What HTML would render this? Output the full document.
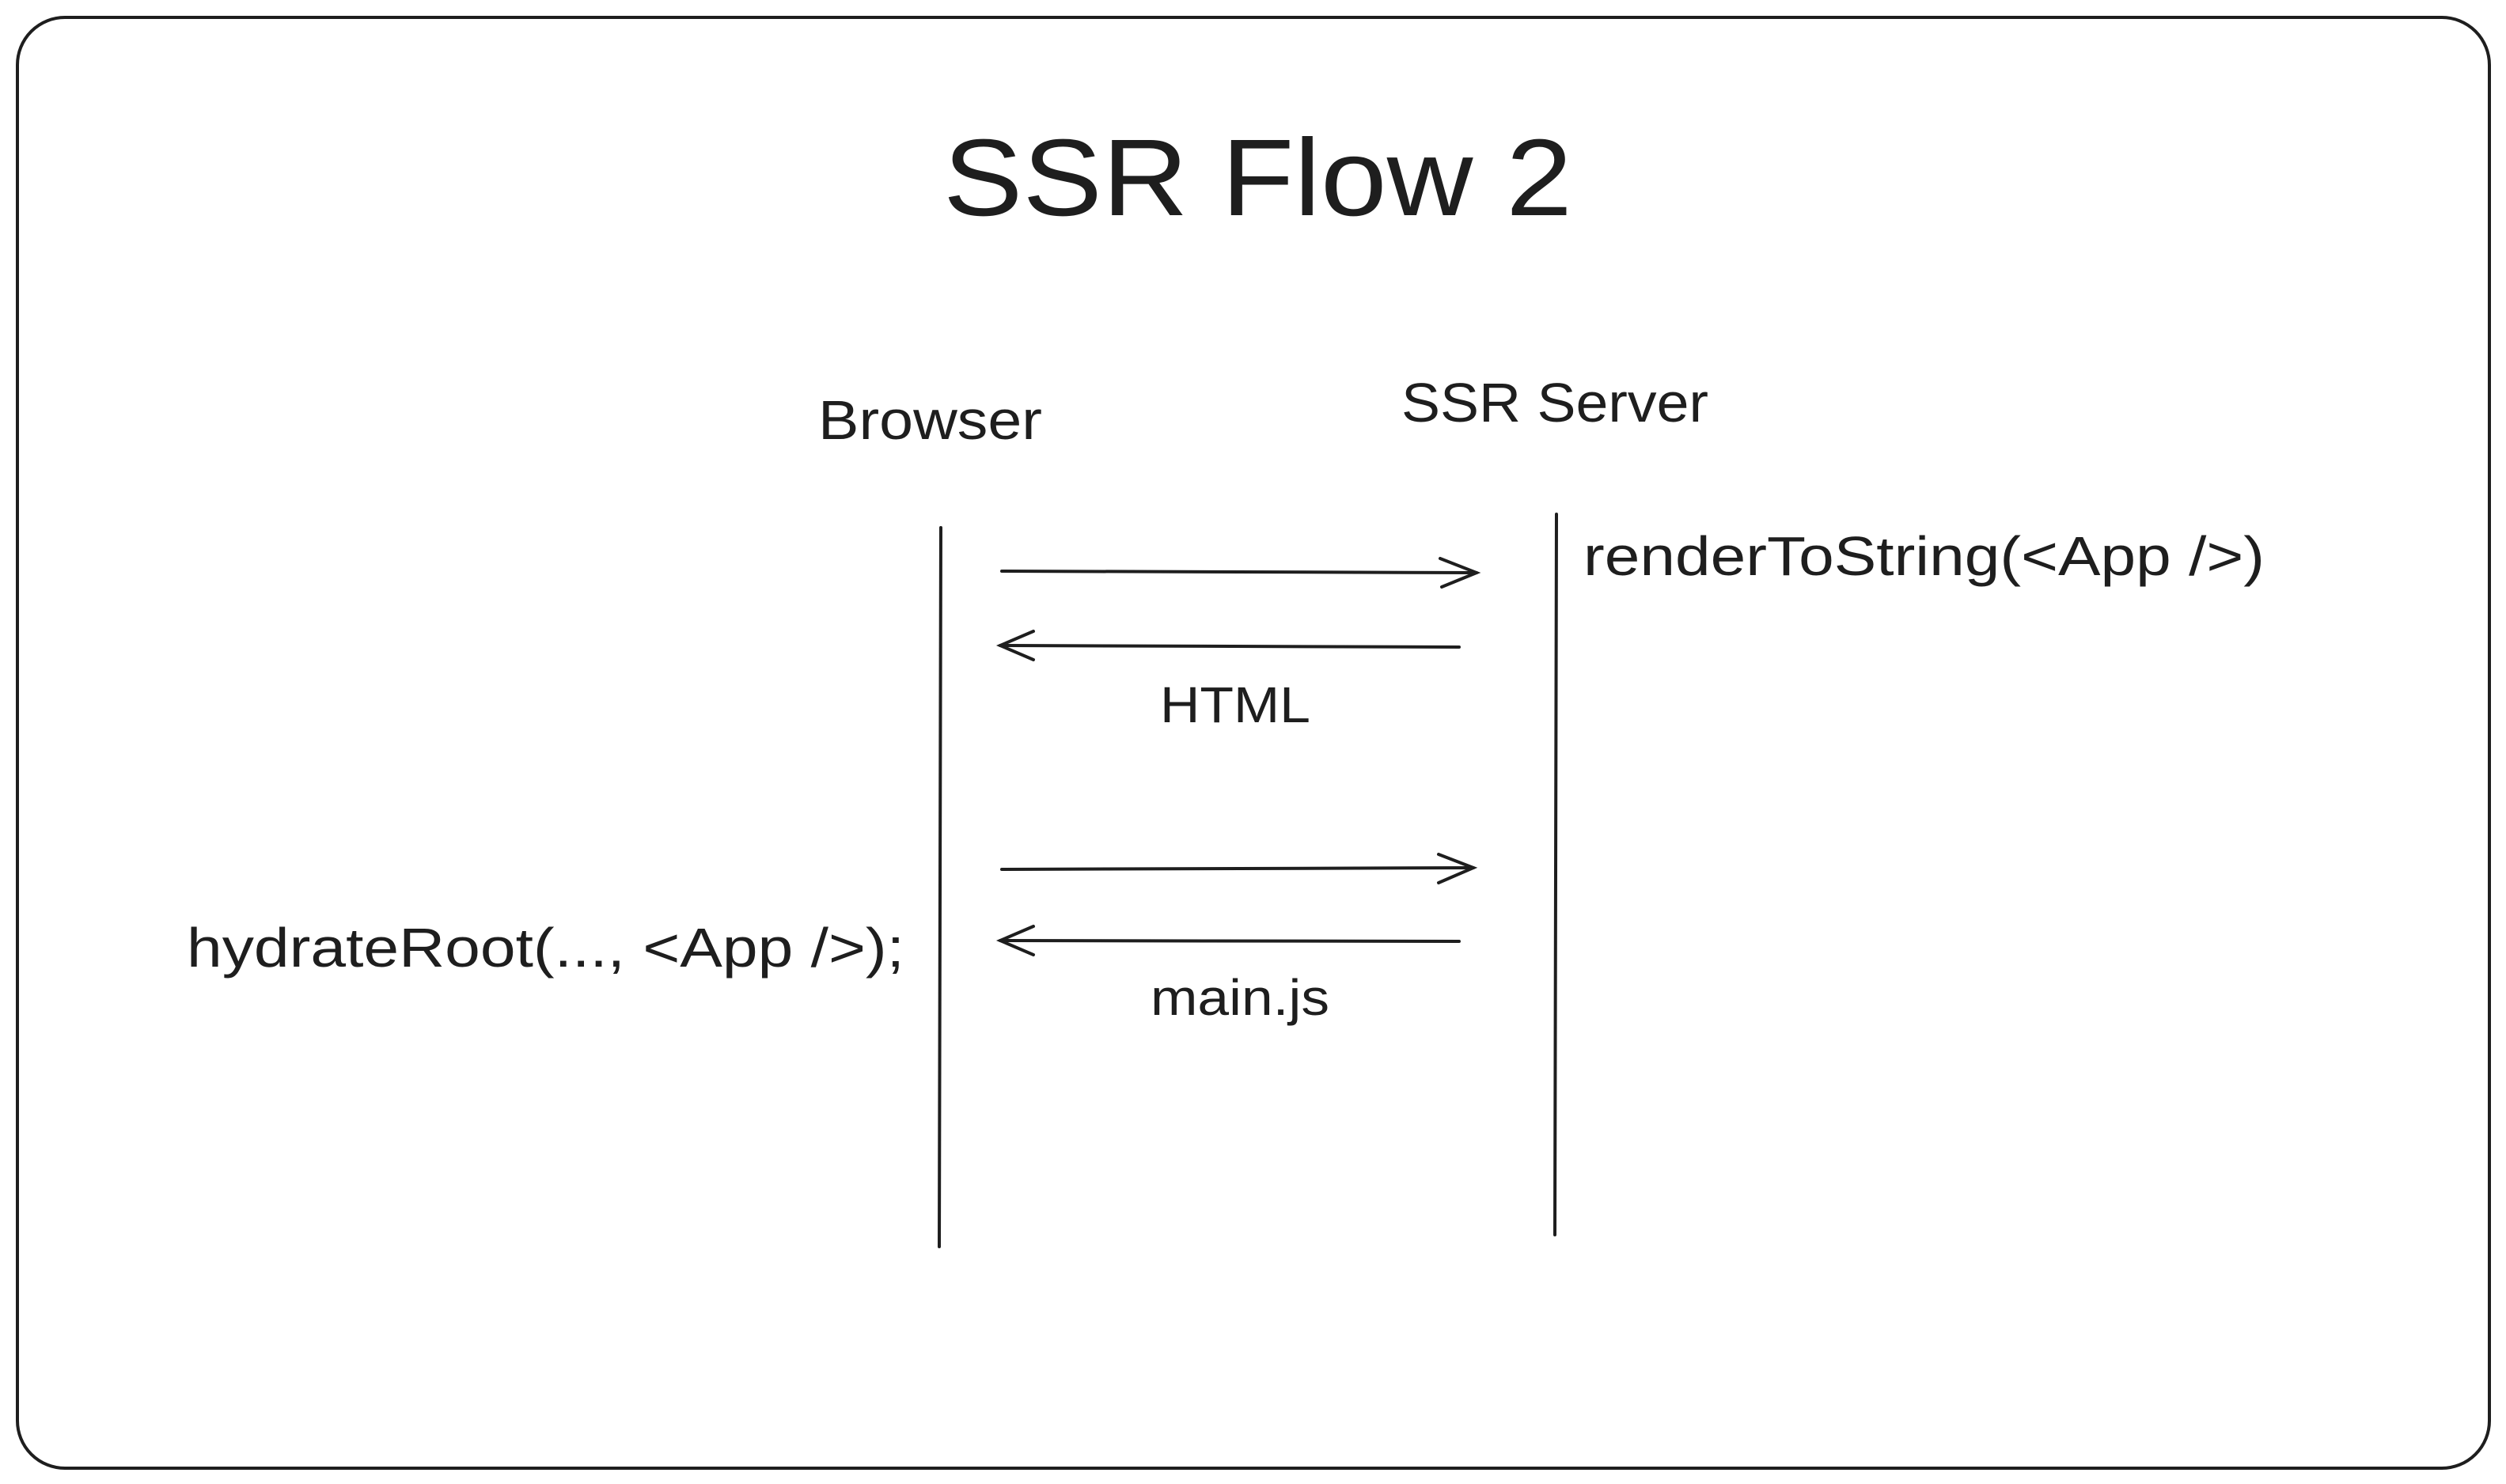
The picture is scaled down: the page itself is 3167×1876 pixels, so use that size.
<!DOCTYPE html>
<html><head><meta charset="utf-8"><style>html,body{margin:0;padding:0;background:#fff}svg{display:block}</style></head>
<body>
<svg width="3167" height="1876" viewBox="0 0 3167 1876" xmlns="http://www.w3.org/2000/svg">
<rect x="22" y="22" width="3124" height="1834" rx="60" ry="60" fill="#fff" stroke="#1e1e1e" stroke-width="4"/>
<g font-family="'Liberation Sans', sans-serif" fill="#1e1e1e">
<text x="1192" y="272" font-size="138" textLength="795" lengthAdjust="spacingAndGlyphs">SSR Flow 2</text>
<text x="1034" y="555" font-size="70" textLength="283" lengthAdjust="spacingAndGlyphs">Browser</text>
<text x="1771" y="533" font-size="70" textLength="388" lengthAdjust="spacingAndGlyphs">SSR Server</text>
<text x="2001" y="727" font-size="70" textLength="861" lengthAdjust="spacingAndGlyphs">renderToString(&lt;App /&gt;)</text>
<text x="236" y="1222" font-size="70" textLength="907" lengthAdjust="spacingAndGlyphs">hydrateRoot(..., &lt;App /&gt;);</text>
<text x="1466" y="913" font-size="64" textLength="190" lengthAdjust="spacingAndGlyphs">HTML</text>
<text x="1454" y="1283" font-size="64" textLength="226" lengthAdjust="spacingAndGlyphs">main.js</text>
</g>
<g stroke="#1e1e1e" stroke-width="4" fill="none" stroke-linecap="round">
<line x1="1189" y1="667" x2="1187" y2="1576"/>
<line x1="1967" y1="650" x2="1965" y2="1561"/>
<line x1="1266" y1="722" x2="1866" y2="724"/>
<polyline points="1820,706 1866,724 1822,742"/>
<line x1="1844" y1="818" x2="1264" y2="816"/>
<polyline points="1306,798 1264,816 1306,834"/>
<line x1="1266" y1="1099" x2="1862" y2="1097"/>
<polyline points="1818,1080 1862,1097 1818,1116"/>
<line x1="1844" y1="1190" x2="1264" y2="1189"/>
<polyline points="1306,1171 1264,1189 1306,1207"/>
</g>
</svg>
</body></html>
